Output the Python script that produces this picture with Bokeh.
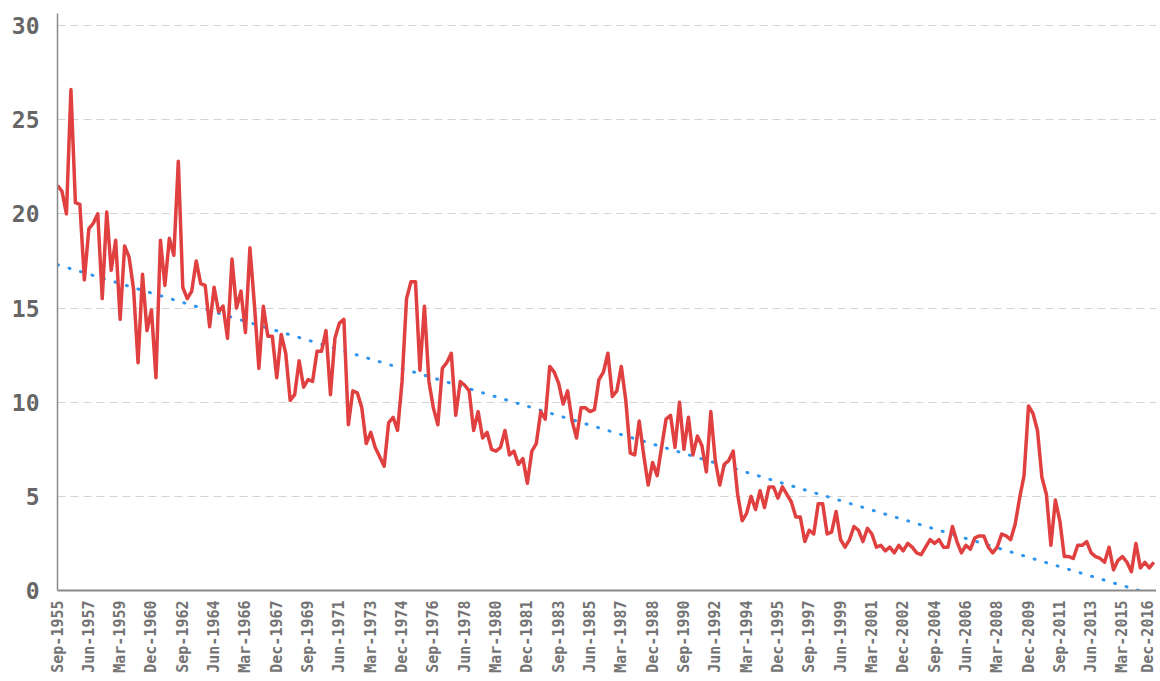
import math
from bokeh.plotting import figure
from bokeh.models import Range1d, FixedTicker
from bokeh.embed import file_html
from bokeh.resources import INLINE

# Quarterly series, Sep-1955 .. Dec-2016
values = [
    21.5, 21.2, 20.0, 26.6, 20.6, 20.5, 16.5, 19.2, 19.5, 20.0,
    15.5, 20.1, 17.0, 18.6, 14.4, 18.3, 17.7, 16.0, 12.1, 16.8,
    13.8, 14.9, 11.3, 18.6, 16.2, 18.7, 17.8, 22.8, 16.1, 15.5,
    15.9, 17.5, 16.3, 16.2, 14.0, 16.1, 14.8, 15.1, 13.4, 17.6,
    15.0, 15.9, 13.7, 18.2, 15.2, 11.8, 15.1, 13.5, 13.5, 11.3,
    13.6, 12.6, 10.1, 10.4,
    12.2, 10.8, 11.2, 11.1, 12.7, 12.7, 13.8, 10.4, 13.4, 14.2,
    14.4, 8.8, 10.6, 10.5, 9.7, 7.8, 8.4, 7.6, 7.1, 6.6,
    8.9, 9.2, 8.5, 11.1, 15.5, 16.4, 16.4, 11.7, 15.1, 11.1,
    9.7, 8.8, 11.8, 12.1, 12.6, 9.3, 11.1, 10.9, 10.6, 8.5,
    9.5, 8.1, 8.4, 7.5, 7.4, 7.6, 8.5, 7.2, 7.4, 6.7,
    7.0, 5.7, 7.4, 7.8, 9.5, 9.1, 11.9, 11.6, 11.0, 9.9,
    10.6, 9.0, 8.1, 9.7, 9.7, 9.5, 9.6, 11.2, 11.6, 12.6,
    10.3, 10.6, 11.9, 10.1, 7.3, 7.2, 9.0, 7.2, 5.6, 6.8,
    6.1, 7.6, 9.1, 9.3, 7.6, 10.0, 7.5, 9.2, 7.2, 8.2,
    7.7, 6.3, 9.5, 6.9, 5.6, 6.7, 6.9, 7.4, 5.1, 3.7,
    4.1, 5.0, 4.3, 5.3, 4.4, 5.5, 5.5, 4.9, 5.5, 5.1,
    4.7, 3.9, 3.9, 2.6, 3.2, 3.0, 4.6, 4.6, 3.0, 3.1,
    4.2, 2.7,
    2.3, 2.7, 3.4, 3.2, 2.6, 3.3, 3.0, 2.3, 2.4, 2.1,
    2.3, 2.0, 2.4, 2.1, 2.5, 2.3, 2.0, 1.9, 2.3, 2.7,
    2.5, 2.7, 2.3, 2.3, 3.4, 2.6, 2.0, 2.4, 2.2, 2.8,
    2.9, 2.9, 2.3, 2.0, 2.3, 3.0, 2.9, 2.7, 3.5, 4.9,
    6.1, 9.8, 9.4, 8.5, 6.0, 5.1, 2.4, 4.8, 3.7, 1.8,
    1.8, 1.7, 2.4, 2.4, 2.6, 2.0, 1.8, 1.7, 1.5, 2.3,
    1.1, 1.6, 1.8, 1.5, 1.0, 2.5, 1.2, 1.5, 1.2, 1.5,
]

tick_labels = [
    "Sep-1955", "Jun-1957", "Mar-1959", "Dec-1960", "Sep-1962", "Jun-1964",
    "Mar-1966", "Dec-1967", "Sep-1969", "Jun-1971", "Mar-1973", "Dec-1974",
    "Sep-1976", "Jun-1978", "Mar-1980", "Dec-1981", "Sep-1983", "Jun-1985",
    "Mar-1987", "Dec-1988", "Sep-1990", "Jun-1992", "Mar-1994", "Dec-1995",
    "Sep-1997", "Jun-1999", "Mar-2001", "Dec-2002", "Sep-2004", "Jun-2006",
    "Mar-2008", "Dec-2009", "Sep-2011", "Jun-2013", "Mar-2015", "Dec-2016",
]
label_every = 7  # quarters between labels

y_ticks = [0, 5, 10, 15, 20, 25, 30]

# trend line end values (first and last quarter)
trend_values = [17.3, -0.24]

n = len(values)
xs = list(range(n))

p = figure(
    width=1156, height=678,
    output_backend="svg", toolbar_location=None,
    x_range=Range1d(0, n - 1 + 0.6), y_range=Range1d(0, 30.64),
    min_border_left=57, min_border_right=0, min_border_top=13, min_border_bottom=88,
)
p.outline_line_color = None
p.background_fill_color = "white"
p.border_fill_color = "white"

p.line([0, n - 1], trend_values, line_color="#2f95ee", line_width=3,
       line_dash="1 11", line_cap="round")
p.line(xs, values, line_color="#e04040", line_width=3.5, line_join="round")

# grid
p.xgrid.grid_line_color = None
p.ygrid.grid_line_color = "#d4d4d4"
p.ygrid.grid_line_dash = "8 5"
p.ygrid.grid_line_width = 1.2

# y axis
p.yaxis.ticker = FixedTicker(ticks=y_ticks)
p.yaxis.minor_tick_line_color = None
p.yaxis.major_tick_line_color = None
p.yaxis.major_tick_out = 0
p.yaxis.major_tick_in = 0
p.yaxis.axis_line_color = "#8a8a8a"
p.yaxis.axis_line_width = 1.5
p.yaxis.major_label_standoff = 18
p.yaxis.major_label_text_font = "DejaVu Sans Mono"
p.yaxis.major_label_text_font_style = "bold"
p.yaxis.major_label_text_font_size = "23px"
p.yaxis.major_label_text_color = "#666666"

# x axis
tick_pos = [i * label_every for i in range(len(tick_labels))]
p.xaxis.ticker = FixedTicker(ticks=tick_pos)
p.xaxis.major_label_overrides = {t: lab for t, lab in zip(tick_pos, tick_labels)}
p.xaxis.minor_tick_line_color = None
p.xaxis.major_tick_line_color = None
p.xaxis.major_tick_out = 0
p.xaxis.major_tick_in = 0
p.xaxis.axis_line_color = "#8a8a8a"
p.xaxis.axis_line_width = 2
p.xaxis.major_label_orientation = math.pi / 2
p.xaxis.major_label_standoff = 10
p.xaxis.major_label_text_font = "DejaVu Sans Mono"
p.xaxis.major_label_text_font_style = "bold"
p.xaxis.major_label_text_font_size = "15px"
p.xaxis.major_label_text_color = "#747474"

open("out.html", "w").write(file_html(p, INLINE))
